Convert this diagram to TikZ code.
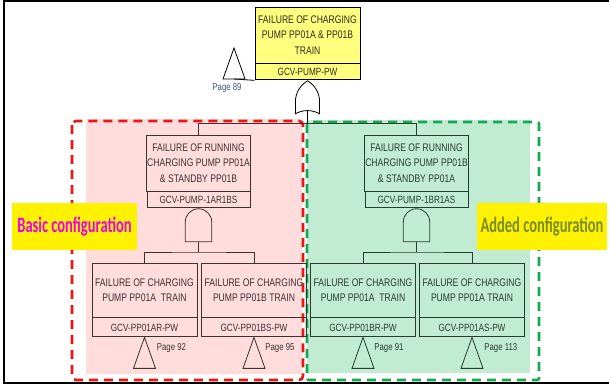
\documentclass[tikz,border=0pt]{standalone}
\usepackage{fontspec}
\usepackage{tikz}
\usetikzlibrary{positioning,shapes.gates.logic.US}
\newfontfamily\ftfont[FakeStretch=0.78]{Liberation Sans}
\newfontfamily\cfgfont[FakeStretch=0.66]{Carlito}
\definecolor{pinkfill}{RGB}{255,221,221}
\definecolor{greenfill}{RGB}{193,235,211}
\definecolor{reddash}{RGB}{238,20,20}
\definecolor{greendash}{RGB}{20,168,80}
\definecolor{topfill}{RGB}{255,255,125}
\definecolor{inkR}{RGB}{62,48,48}
\definecolor{inkG}{RGB}{38,62,47}
\definecolor{inkT}{RGB}{50,40,30}
\definecolor{pageblue}{RGB}{70,80,120}
\definecolor{cfgmag}{RGB}{235,0,235}
\definecolor{cfgolive}{RGB}{120,140,40}

\begin{document}
\begin{tikzpicture}[x=1pt,y=-1pt,line width=0.8pt,
  event/.style={draw,minimum height=56pt,align=center,inner sep=1pt,line width=0.9pt,font=\ftfont\fontsize{11}{15.5}\selectfont},
  eventid/.style={draw,minimum height=16pt,inner sep=1pt,line width=0.9pt,font=\ftfont\fontsize{10.5}{12}\selectfont},
  orgate/.style={draw,or gate US,rotate=90,logic gate inputs=nn,minimum width=33pt,minimum height=19pt,inner sep=0pt,anchor=output},
  andgate/.style={draw,and gate US,rotate=90,logic gate inputs=nn,minimum width=33pt,minimum height=20pt,inner sep=0pt,anchor=output},
  transfer/.pic={\draw (0,0) -- (-11,31) -- (11,31) -- cycle;
    \coordinate (-apex) at (0,0); \coordinate (-base) at (0,31);},
  pagelbl/.style={font=\ftfont\fontsize{10}{12}\selectfont,inner sep=0pt,anchor=west},
  config/.style={fill=yellow,minimum height=47pt,inner sep=0pt,font=\cfgfont\bfseries\fontsize{22}{24}\selectfont}]

  \useasboundingbox (0,0) rectangle (609,385);

  % Configuration areas
  \fill[pinkfill] (86,119) rectangle (302,374);
  \fill[greenfill] (307,120) rectangle (530,373);
  \draw[reddash,line width=2.6pt,dash pattern=on 9pt off 6pt,rounded corners=4pt] (72,121) rectangle (303,380);
  \draw[greendash,line width=2.6pt,dash pattern=on 9pt off 6pt,rounded corners=2pt] (307,122) rectangle (539,380);

  % Top event
  \node[event,fill=topfill,minimum width=105pt,text=inkT] (top) at (307.5,35) {FAILURE OF CHARGING\\PUMP PP01A \& PP01B\\TRAIN};
  \node[eventid,fill=topfill,minimum width=105pt,text=inkT,below=0pt of top] (topid) {GCV-PUMP-PW};
  \node[orgate] (g0) at (topid.south) {};
  \pic (t89) at (234,48) {transfer};
  \node[pagelbl,anchor=center,text=pageblue] (p89) at ([xshift=-7pt,yshift=-9pt]t89-base) {Page 89};
  \draw (topid.south west) -- (t89-base);

  % Basic configuration
  \begin{scope}[color=inkR]
  \node[event,minimum width=103pt] (midA) at (198.5,163) {FAILURE OF RUNNING\\CHARGING PUMP PP01A\\\& STANDBY PP01B};
  \node[eventid,minimum width=103pt,below=0pt of midA] (midAid) {GCV-PUMP-1AR1BS};
  \node[andgate] (gA) at (midAid.south) {};

  \node[event,minimum width=105pt,minimum height=54pt] (b1) at (144.5,290) {FAILURE OF CHARGING\\PUMP PP01A\ \ TRAIN};
  \node[eventid,minimum width=105pt,minimum height=19pt,below=0pt of b1] (b1id) {GCV-PP01AR-PW};
  \node[event,minimum width=105pt,minimum height=54pt] (b2) at (254,290) {FAILURE OF CHARGING\\PUMP PP01B TRAIN};
  \node[eventid,minimum width=105pt,minimum height=19pt,below=0pt of b2] (b2id) {GCV-PP01BS-PW};

  \pic (t92) at (b1id.south) {transfer};
  \pic (t95) at (b2id.south) {transfer};
  \node[pagelbl] (p92) at ([xshift=12pt,yshift=-11pt]t92-apex) {Page 92};
  \node[pagelbl] (p95) at ([xshift=11pt,yshift=-11pt]t95-apex) {Page 95};

  \coordinate (jA) at (198.5,252);
  \draw (gA.west) -- (jA);
  \draw (b1.north) |- (jA) -| (b2.north);
  \end{scope}

  % Added configuration
  \begin{scope}[color=inkG]
  \node[event,minimum width=103pt] (midB) at (416.5,163) {FAILURE OF RUNNING\\CHARGING PUMP PP01B\\\& STANDBY PP01A};
  \node[eventid,minimum width=103pt,below=0pt of midB] (midBid) {GCV-PUMP-1BR1AS};
  \node[andgate] (gB) at (midBid.south) {};

  \node[event,minimum width=105pt,minimum height=54pt] (b3) at (363,290) {FAILURE OF CHARGING\\PUMP PP01A\ \ TRAIN};
  \node[eventid,minimum width=105pt,minimum height=19pt,below=0pt of b3] (b3id) {GCV-PP01BR-PW};
  \node[event,minimum width=105pt,minimum height=54pt] (b4) at (472,290) {FAILURE OF CHARGING\\PUMP PP01A TRAIN};
  \node[eventid,minimum width=105pt,minimum height=19pt,below=0pt of b4] (b4id) {GCV-PP01AS-PW};

  \pic (t91) at (b3id.south) {transfer};
  \pic (t113) at (b4id.south) {transfer};
  \node[pagelbl] (p91) at ([xshift=11pt,yshift=-11pt]t91-apex) {Page 91};
  \node[pagelbl] (p113) at ([xshift=12pt,yshift=-11pt]t113-apex) {Page 113};

  \coordinate (jB) at (416.5,252);
  \draw (gB.west) -- (jB);
  \draw (b3.north) |- (jB) -| (b4.north);
  \end{scope}

  % Top gate to both trains
  \coordinate (j0) at (307.5,123);
  \draw (g0.west) -- (j0);
  \draw[inkR] (midA.north) |- (j0);
  \draw[inkG] (j0) -| (midB.north);

  % Labels
  \node[config,minimum width=125pt,text=cfgmag] (basic) at (74.5,226.5) {Basic configuration};
  \node[config,minimum width=130pt,text=cfgolive] (added) at (542,226.5) {Added configuration};

  % Frame
  \draw[line width=1.3pt] (609,1) -- (4,1) -- (4,383) -- (609,383);

\end{tikzpicture}
\end{document}
